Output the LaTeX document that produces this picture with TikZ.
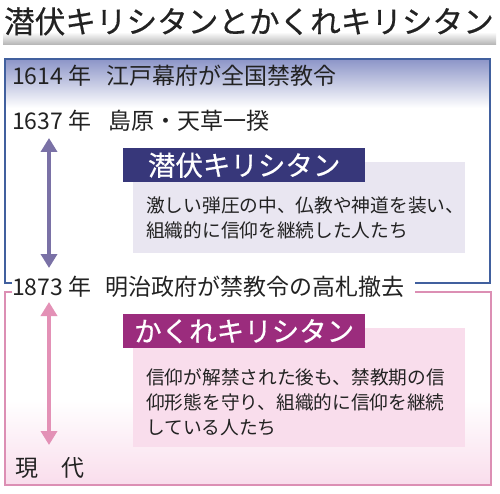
\documentclass[tikz,border=0pt]{standalone}
\usepackage{fontspec}
\setmainfont{Noto Sans CJK JP}
\newfontfamily\heavyfont{Noto Sans CJK JP}[FakeBold=0.5]
\usepackage{tikz}
\usetikzlibrary{arrows.meta,positioning}

\definecolor{framblue}{HTML}{41609E}
\definecolor{topblue}{HTML}{8C95C8}
\definecolor{navy}{HTML}{37377A}
\definecolor{lavender}{HTML}{E9E6F1}
\definecolor{arrpurple}{HTML}{7A71A6}
\definecolor{magenta}{HTML}{9B2C7D}
\definecolor{pinkfill}{HTML}{F9DDEC}
\definecolor{arrpink}{HTML}{E391B6}
\definecolor{frampink}{HTML}{DC8FB4}
\definecolor{inkgray}{HTML}{222222}

\begin{document}
\begin{tikzpicture}[x=1pt,y=-1pt,
	year/.style={anchor=base west,inner sep=0pt,text=inkgray,font=\fontsize{23}{26}\selectfont},
	tag/.style={anchor=north west,inner sep=0pt,minimum width=242pt,minimum height=34pt,text=white,font=\heavyfont\fontsize{27.5}{30}\selectfont},
	body/.style={anchor=north west,inner sep=0pt,align=left,text=inkgray,font=\fontsize{18.7}{25}\selectfont},
	period/.style={line width=4pt,{Triangle[width=16pt,length=14pt]}-{Triangle[width=16pt,length=14pt]}}]
		\useasboundingbox (0,0) rectangle (500,494);
		
		% title
		\shade[top color=white,bottom color=black!30] (3,32) rectangle (496,45);
		\node[anchor=base west,inner sep=0pt,text=inkgray,font=\heavyfont\fontsize{30.6}{34}\selectfont] (title) at (4,33) {潜伏キリシタンとかくれキリシタン};
		
		% backgrounds
		\shade[top color=topblue,bottom color=white] (5,59) rectangle (490,108);
		\shade[top color=white,bottom color=pinkfill] (5,400) rectangle (491,485);
		
		% frames
		\draw[framblue,line width=2pt] (12,283) -- (5,283) -- (5,59) -- (490,59) -- (490,283) -- (415,283);
		\draw[frampink,line width=2.5pt] (12,292) -- (5,292) -- (5,485) -- (491,485) -- (491,292) -- (415,292);
		
		% years
		\node[year] (y1614) at (12,85) {1614 年};
		\node[year] (e1614) at (106,85) {江戸幕府が全国禁教令};
		\node[year] (y1637) at (12,130) {1637 年};
		\node[year] (e1637) at (108,130) {島原・天草一揆};
		\node[year] (y1873) at (12,295) {1873 年};
		\node[year] (e1873) at (105,295) {明治政府が禁教令の高札撤去};
		\node[year] (now) at (15,476) {現　代};
		
		% periods
		\coordinate (p1) at (49,138);
		\coordinate (p2) at (49,268);
		\draw[period,arrpurple] (p1) -- (p2);
		\coordinate (k1) at (49,302);
		\coordinate (k2) at (49,445);
		\draw[period,arrpink] (k1) -- (k2);
		
		% sempuku
		\fill[lavender] (133,162) rectangle (465,253);
		\node[tag,fill=navy] (sempuku) at (123,148) {潜伏キリシタン};
		\node[body] (sempukutext) at (146,197) {激しい弾圧の中、仏教や神道を装い、\\組織的に信仰を継続した人たち};
		
		% kakure
		\fill[pinkfill] (133,328) rectangle (465,447);
		\node[tag,fill=magenta] (kakure) at (123,314) {かくれキリシタン};
		\node[body] (kakuretext) at (146,368) {信仰が解禁された後も、禁教期の信\\仰形態を守り、組織的に信仰を継続\\している人たち};
	\end{tikzpicture}
\end{document}
